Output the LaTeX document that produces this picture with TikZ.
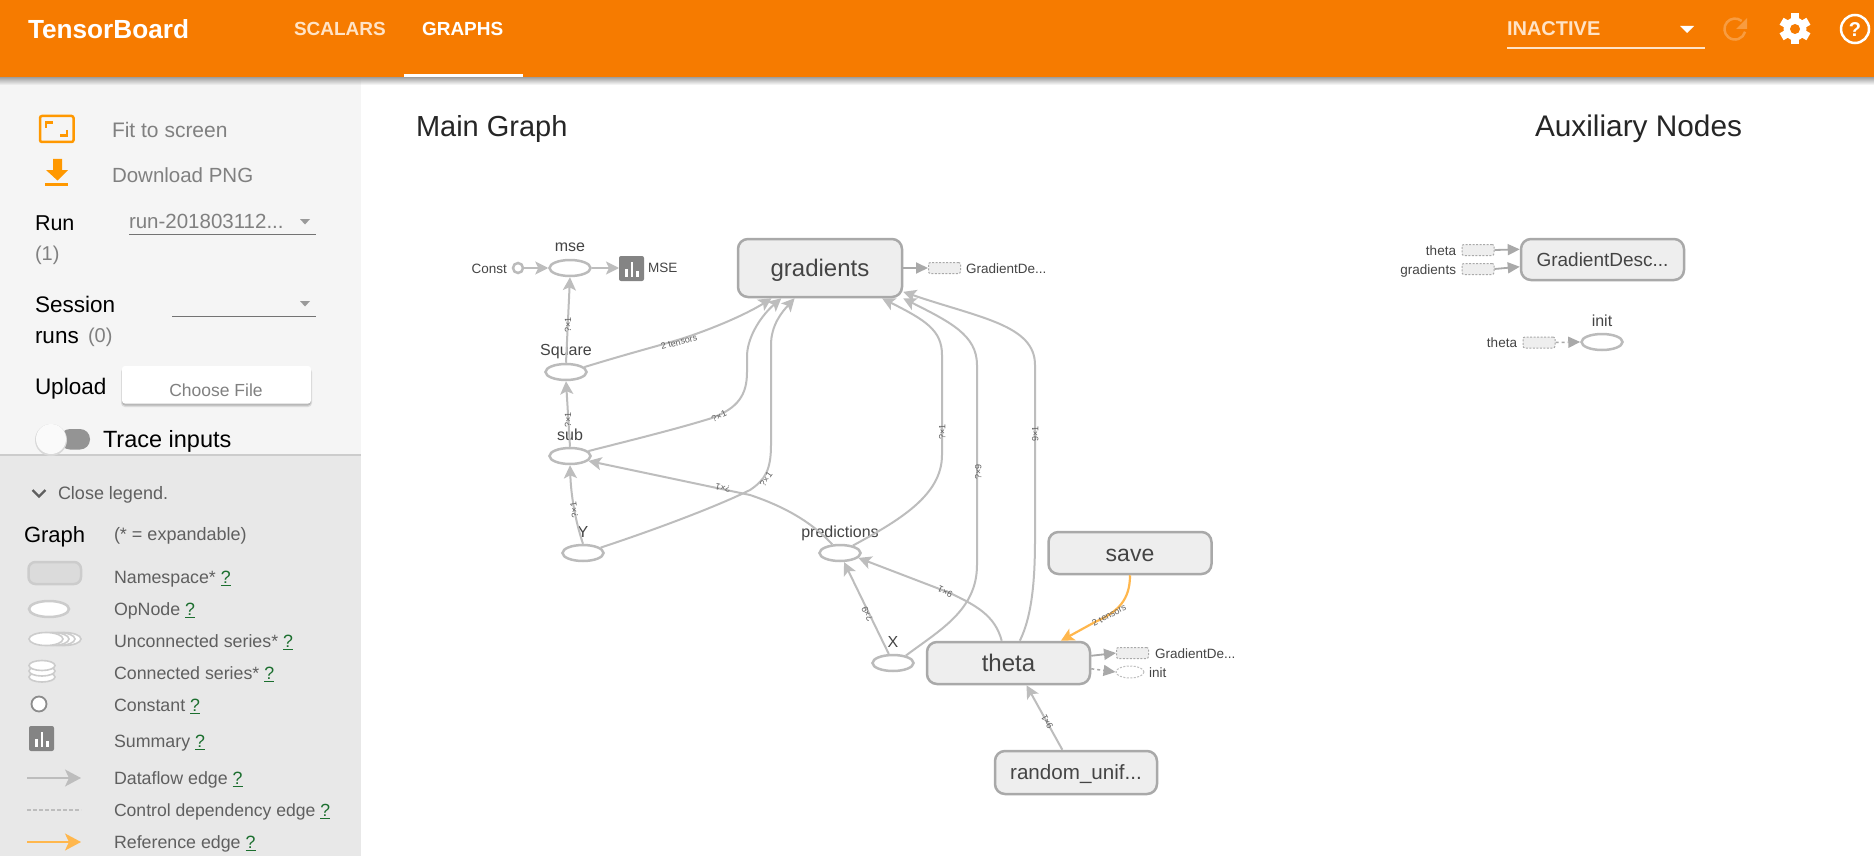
\documentclass[tikz,border=0pt]{standalone}
\usepackage{fontspec}
\setmainfont{Liberation Sans}
\usetikzlibrary{arrows.meta,shapes.geometric}
\definecolor{hdr}{HTML}{F67B00}
\definecolor{side}{HTML}{F5F5F5}
\definecolor{leg}{HTML}{E8E8E8}
\definecolor{org}{HTML}{FF9800}
\definecolor{edgeg}{HTML}{BDBDBD}
\definecolor{refg}{HTML}{FFB74D}
\definecolor{nodeb}{HTML}{A9A9A9}
\definecolor{nodef}{HTML}{EEEEEE}
\definecolor{opb}{HTML}{BBBBBB}
\definecolor{txtd}{HTML}{444444}
\definecolor{txtg}{HTML}{808080}
\definecolor{txtl}{HTML}{5F5F5F}
\definecolor{qgreen}{HTML}{1B6E2E}
\definecolor{fadew}{HTML}{FFE3C6}
\definecolor{sumg}{HTML}{848484}
\newcommand\qm{\textcolor{qgreen}{\underline{?}}}
\tikzset{
  fs/.style={font=\fontsize{#1}{#1}\selectfont,text height={#1*0.72pt},text depth=0pt},
  tx/.style={inner sep=0pt,outer sep=0pt},
  ltx/.style={tx,anchor=west},
  rtx/.style={tx,anchor=east},
  ns/.style={draw=nodeb,fill=nodef,line width=2.5pt,rounded corners=10pt,inner sep=0pt,text=txtd,minimum width=#1},
  op/.style={ellipse,draw=opb,fill=white,line width=2.5pt,inner sep=0pt,minimum width=41pt,minimum height=16pt},
  aux/.style={draw=nodeb,fill=nodef,line width=1pt,dash pattern=on 2pt off 1.5pt,rounded corners=2pt,inner sep=0pt,minimum width=32pt,minimum height=11pt},
  edge/.style={draw=edgeg,line width=2pt,-{Stealth[length=13pt,width=13pt,inset=3pt,fill=edgeg]}},
  edgeb/.style={draw=nodeb,line width=1.8pt,-{Stealth[length=12pt,width=11pt,inset=0pt,fill=nodeb]}},
  ctrl/.style={draw=nodeb,line width=1.5pt,dash pattern=on 3pt off 3pt,-{Stealth[length=12pt,width=11pt,inset=0pt,fill=nodeb]}},
  refe/.style={draw=refg,line width=2.2pt,-{Stealth[length=13pt,width=13pt,inset=3pt,fill=refg]}},
  el/.style={tx,fs=9,text=txtl},
}
\newcommand\sumicon[2]{%
  \fill[sumg,rounded corners=2pt] (#1,#2) rectangle ++(25,25);
  \fill[white] (#1+6,#2+13) rectangle (#1+8.5,#2+21);
  \fill[white] (#1+11.5,#2+6) rectangle (#1+14,#2+21);
  \fill[white] (#1+17,#2+15) rectangle (#1+19.5,#2+21);
}
\begin{document}
\begin{tikzpicture}[x=1pt,y=-1pt]
\useasboundingbox (0,0) rectangle (1874,856);
\fill[white] (0,0) rectangle (1874,856);
% panels
\fill[side] (0,77) rectangle (361,454);
\fill[leg] (0,454) rectangle (361,856);
\fill[black!20] (0,453.5) rectangle (361,456);
\shade[top color=black!38,bottom color=side] (0,77) rectangle (361,85);
\shade[top color=black!38,bottom color=white] (361,77) rectangle (1874,85);
\fill[hdr] (0,0) rectangle (1874,77);
% header
\node[ltx,fs=26.2,text=white] (tbtitle) at (28,29) {\bfseries TensorBoard};
\node[ltx,fs=19,text=fadew] (tbscal) at (294,29) {\bfseries SCALARS};
\node[ltx,fs=19,text=white] (tbgraph) at (422,29) {\bfseries GRAPHS};
\fill[white] (404,74.5) rectangle (523,77);
\node[ltx,fs=20,text=fadew] (tbinact) at (1507,28) {\bfseries INACTIVE};
\fill[fadew] (1507,47) rectangle (1705,49);
\fill[white] (1680,26) -- (1694,26) -- (1687,33) -- cycle;
% reload
\draw[color=hdr!75!white,line width=2.5pt] (1741.7,21) arc[start angle=-50,end angle=-345,radius=10.5];
\fill[hdr!75!white] (1747,18) -- (1747,29) -- (1736,29) -- cycle;
% gear
\foreach \a in {0,60,...,300}{\fill[white,rotate around={\a:(1795,29)}] (1791,13.5) rectangle (1799,24);}
\fill[white] (1795,29) circle[radius=11.5];
\fill[hdr] (1795,29) circle[radius=5];
% help
\draw[white,line width=2.5pt] (1855,29) circle[radius=14];
\node[tx,fs=20,text=white] (tbhelp) at (1855,29) {\bfseries ?};
% sidebar icons
\draw[org,line width=2.5pt,rounded corners=2pt] (40,116) rectangle (73.5,142);
\draw[org,line width=2.5pt] (46,128) -- (46,122.5) -- (53,122.5);
\draw[org,line width=2.5pt] (67,130) -- (67,135.5) -- (60,135.5);
\fill[org] (53,159) rectangle (62,170) -- (68,170) -- (57.5,180.5) -- (46,170) -- (53,170) -- cycle;
\fill[org] (45,183) rectangle (68,186);
% sidebar text
\node[ltx,fs=21,text=txtg] (fit) at (112,130) {Fit to screen};
\node[ltx,fs=20.5,text=txtg] (dl) at (112,175) {Download PNG};
\node[ltx,fs=21.5,text=black] (run) at (35,223) {Run};
\node[ltx,fs=20,text=txtg] (runn) at (35,253) {(1)};
\node[ltx,fs=20.5,text=txtg] (runv) at (129,221) {run-201803112...};
\draw[black!55,line width=1pt] (129,234.5) -- (316,234.5);
\fill[txtg!80!white] (300,219) -- (310,219) -- (305,224.5) -- cycle;
\node[ltx,fs=22.5,text=black] (sess) at (35,304) {Session};
\node[ltx,fs=22.5,text=black] (runs) at (35,335) {runs};
\node[ltx,fs=20,text=txtg] (runs0) at (88,335) {(0)};
\draw[black!55,line width=1pt] (172,316.5) -- (316,316.5);
\fill[txtg!80!white] (300,301) -- (310,301) -- (305,306.5) -- cycle;
\node[ltx,fs=22.5,text=black] (upl) at (35,386) {Upload};
\fill[black!14,rounded corners=4pt] (121,368) rectangle (312,407);
\fill[black!28,rounded corners=3pt] (122,369) rectangle (311,405.5);
\fill[white,rounded corners=3pt] (122,366) rectangle (311,403.5);
\node[tx,fs=17.5,text=txtg] (choose) at (216,390) {Choose File};
\fill[black!42,rounded corners=10pt] (60,429) rectangle (90,449.5);
\fill[black!15] (51,440) circle[radius=16];
\fill[black!2] (51,439) circle[radius=15];
\node[ltx,fs=23.5,text=black] (trace) at (103,439) {Trace inputs};
% legend
\draw[txtl,line width=2.2pt] (32.5,490) -- (39,496.5) -- (45.5,490);
\node[ltx,fs=18,text=txtl] (closel) at (58,493) {Close legend.};
\node[ltx,fs=22,text=black] (lgraph) at (24,535) {Graph};
\node[ltx,fs=18,text=txtl] (lexp) at (114,534) {(* = expandable)};
\node[ltx,fs=17.8,text=txtl] (l1) at (114,577) {Namespace* \qm};
\node[ltx,fs=17.8,text=txtl] (l2) at (114,609) {OpNode \qm};
\node[ltx,fs=17.8,text=txtl] (l3) at (114,641) {Unconnected series* \qm};
\node[ltx,fs=17.8,text=txtl] (l4) at (114,673) {Connected series* \qm};
\node[ltx,fs=17.8,text=txtl] (l5) at (114,705) {Constant \qm};
\node[ltx,fs=17.8,text=txtl] (l6) at (114,741) {Summary \qm};
\node[ltx,fs=17.8,text=txtl] (l7) at (114,778) {Dataflow edge \qm};
\node[ltx,fs=17.6,text=txtl] (l8) at (114,810) {Control dependency edge \qm};
\node[ltx,fs=17.8,text=txtl] (l9) at (114,842) {Reference edge \qm};
% legend icons
\draw[black!20,fill=black!14,line width=2.5pt,rounded corners=7pt] (28.5,562) rectangle (81,584);
\draw[black!20,fill=white,line width=2.5pt] (49,609) ellipse[x radius=20,y radius=8];
\foreach \cx in {64,58,52,46}{\draw[black!20,fill=white,line width=1.6pt] (\cx,639) ellipse[x radius=17,y radius=6.5];}
\foreach \cy in {677,671,665.5}{\draw[black!20,fill=white,line width=1.6pt] (42,\cy) ellipse[x radius=13,y radius=5];}
\draw[black!45,fill=white,line width=1.8pt] (39,704) circle[radius=7.5];
\sumicon{29}{726}
\coordinate (lda) at (27,778); \coordinate (ldb) at (81,778);
\draw[draw=edgeg,line width=1.6pt,-{Stealth[length=16pt,width=17pt,inset=4pt,fill=edgeg]}] (lda) -- (ldb);
\coordinate (lca) at (27,810); \coordinate (lcb) at (81,810);
\draw[draw=edgeg,line width=1.4pt,dash pattern=on 3.5pt off 2.5pt] (lca) -- (lcb);
\coordinate (lra) at (27,842); \coordinate (lrb) at (81,842);
\draw[draw=refg,line width=1.8pt,-{Stealth[length=16pt,width=17pt,inset=4pt,fill=refg]}] (lra) -- (lrb);
% titles
\node[ltx,fs=29,text=black!85] (mgt) at (416,126) {Main Graph};
\node[ltx,fs=29.8,text=black!85] (axt) at (1535,126) {Auxiliary Nodes};
% main graph nodes
\node[op,minimum width=10pt,minimum height=10pt] (const) at (518,268) {};
\node[rtx,fs=13.5,text=txtd] (constl) at (507,268.5) {Const};
\node[op] (mse) at (570,268) {};
\node[tx,fs=16,text=txtd] (msel) at (570,246) {mse};
\node[tx,minimum width=24pt,minimum height=24pt] (msesum) at (631,268) {};
\sumicon{619}{256}
\node[ltx,fs=13.5,text=txtd] (msesl) at (648,268) {MSE};
\node[op] (sq) at (566,372) {};
\node[tx,fs=16,text=txtd] (sql) at (566,350) {Square};
\node[op] (sub) at (570,456) {};
\node[tx,fs=16,text=txtd] (subl) at (570,435) {sub};
\node[op] (Y) at (583,553) {};
\node[tx,fs=16,text=txtd] (Yl) at (583,532) {Y};
\node[op] (pred) at (840,553) {};
\node[tx,fs=16,text=txtd] (predl) at (840,532) {predictions};
\node[op] (X) at (893,663) {};
\node[tx,fs=16,text=txtd] (Xl) at (893,642) {X};
\node[ns=164pt,minimum height=58pt,fs=24] (grad) at (820,268) {gradients};
\node[aux] (gds1) at (944.5,268) {};
\node[ltx,fs=13.5,text=txtd] (gds1l) at (966,268.5) {GradientDe...};
\node[ns=163pt,minimum height=42pt,fs=23] (save) at (1130,553) {save};
\node[ns=163pt,minimum height=42pt,fs=24] (theta) at (1008.5,663) {theta};
\node[ns=162pt,minimum height=43pt,fs=20.6] (rand) at (1076,772.5) {random\_unif...};
\node[aux] (gds2) at (1132.5,653) {};
\node[ltx,fs=13.5,text=txtd] (gds2l) at (1155,653.5) {GradientDe...};
\node[aux,ellipse,fill=white,draw=black!25,minimum width=28pt,minimum height=12pt] (ini2) at (1130,672) {};
\node[ltx,fs=13.5,text=txtd] (ini2l) at (1149,672.5) {init};
% aux nodes
\node[ns=163pt,minimum height=41pt,fs=19] (gdm) at (1602.5,259.5) {GradientDesc...};
\node[aux] (ath) at (1478,250) {};
\node[rtx,fs=13.5,text=txtd] (athl) at (1456,250.5) {theta};
\node[aux] (agr) at (1478,269) {};
\node[rtx,fs=13.5,text=txtd] (agrl) at (1456,269.5) {gradients};
\node[op] (ainit) at (1602,342) {};
\node[tx,fs=16,text=txtd] (ainitl) at (1602,321) {init};
\node[aux] (ath2) at (1539,342.5) {};
\node[rtx,fs=13.5,text=txtd] (ath2l) at (1517,343) {theta};
% edges
\draw[edge] (const) -- (mse);
\draw[edge] (mse) -- (msesum);
\draw[edge] (sq.north) -- (mse.south);
\draw[edge] (sub.north) -- (sq.south);
\draw[edge] (Y.north) .. controls (575,520) and (571,495) .. (sub.south);
\draw[edge] (sq.15) .. controls (640,350) and (670,343) .. (690,336) .. controls (722,325) and (750,312) .. (grad.212.8);
\draw[edge] (sub.15) .. controls (640,438) and (680,428) .. (712,418) .. controls (738,408) and (747,395) .. (747,372) -- (747,355) .. controls (748,335) and (762,315) .. (grad.218);
\draw[edge] (Y.17) .. controls (660,528) and (720,505) .. (750,490) .. controls (765,480) and (771,470) .. (771,445) -- (771,345) .. controls (771,325) and (782,312) .. (grad.230.4);
\draw[edge] (pred.132) .. controls (810,520) and (780,505) .. (750,495) -- (sub.-15);
\draw[edge] (pred.30) .. controls (900,520) and (942,495) .. (942,455) -- (942,355) .. controls (942,330) and (925,320) .. (grad.-26.6);
\draw[edge] (X.30) .. controls (940,630) and (977,610) .. (977,565) -- (977,365) .. controls (977,335) and (950,322) .. (grad.-20.9);
\draw[edge] (theta.63.4) .. controls (1030,620) and (1035,590) .. (1035,540) -- (1035,365) .. controls (1035,325) and (980,318) .. (grad.-16.3);
\draw[edge] (theta.107) .. controls (995,615) and (975,605) .. (950,593) -- (pred.-15);
\draw[edge] (X.115) -- (pred.-66);
\draw[edge] (rand.121.2) -- (theta.-51.8);
\draw[refe] (save.south) .. controls (1130,600) and (1118,612) .. (1095,622) -- (theta.23.4);
\draw[edgeb] (grad.east) -- (gds1.west);
\draw[edgeb] (theta.5.6) -- (gds2.west);
\draw[ctrl] (theta.-4.9) -- (ini2.west);
\draw[edgeb] (ath.east) -- (gdm.173);
\draw[edgeb] (agr.east) -- (gdm.-175);
\draw[ctrl] (ath2.east) -- (ainit.west);
% edge labels
\node[el,rotate=90] (e1) at (568,325) {?×1};
\node[el,rotate=90] (e2) at (568,420) {?×1};
\node[el,rotate=98] (e3) at (574,510) {?×1};
\node[el,rotate=15] (e4) at (679,342) {2 tensors};
\node[el,rotate=25] (e5) at (719,416) {?×1};
\node[el,rotate=55] (e6) at (766,479) {?×1};
\node[el,rotate=167] (e7) at (723,488) {?×1};
\node[el,rotate=90] (e8) at (942,432) {?×1};
\node[el,rotate=90] (e9) at (978,472) {?×9};
\node[el,rotate=90] (e10) at (1035,434) {9×1};
\node[el,rotate=155] (e11) at (945,592) {9×1};
\node[el,rotate=116] (e12) at (867,614) {?×9};
\node[el,rotate=120] (e13) at (1047,722) {9×1};
\node[el,rotate=28] (e14) at (1109,615) {2 tensors};
\end{tikzpicture}
\end{document}
